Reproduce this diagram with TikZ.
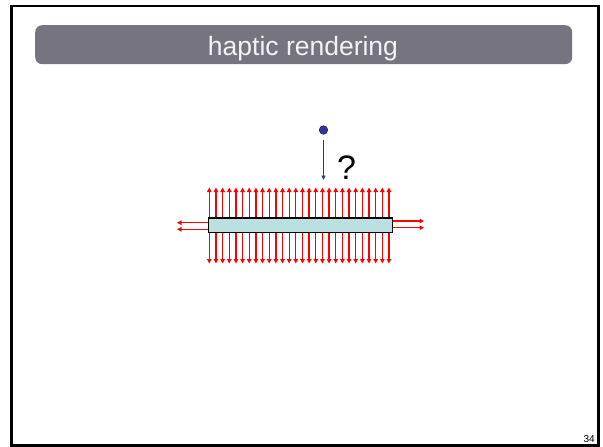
\documentclass[tikz,border=0pt]{standalone}
\usepackage{fontspec}
\setmainfont{Liberation Sans}
\usetikzlibrary{arrows.meta}
\definecolor{titlegray}{RGB}{118,117,127}
\definecolor{barfill}{RGB}{186,224,226}
\definecolor{probeblue}{RGB}{51,51,160}
\begin{document}
\begin{tikzpicture}[x=1pt,y=-1pt,
  force/.style={draw=red, line width=1.3pt, -{Triangle[length=4.5pt,width=4.5pt]}},
  probearrow/.style={draw=probeblue, line width=1.3pt, -{Triangle[length=4.5pt,width=4pt]}},
  titlebar/.style={fill=titlegray, rounded corners=7pt, minimum width=537pt, minimum height=39pt, inner sep=0pt, anchor=north west},
  barbox/.style={draw=black, fill=barfill, line width=1.2pt, minimum width=184pt, minimum height=14.5pt, inner sep=0pt, anchor=north west}]
\useasboundingbox (0,0) rectangle (603,447);
\fill[white] (0,0) rectangle (603,447);
\draw[line width=2.5pt] (11.5,6) rectangle (598.5,445.5);
% title
\node[titlebar] (title) at (35,25) {};
\node[text=white!95!black, font=\fontsize{26.5}{26.5}\selectfont, anchor=base] (titletext) at (303,55) {haptic rendering};
% vertical force arrows
\foreach \i in {0,...,27} {
  \pgfmathsetmacro\xx{209.3+\i*6.655}
  \coordinate (bt\i) at (\xx,220);
  \coordinate (ut\i) at (\xx,187.5);
  \coordinate (bb\i) at (\xx,229);
  \coordinate (dt\i) at (\xx,263.5);
  \draw[force] (bt\i) -- (ut\i);
  \draw[force] (bb\i) -- (dt\i);
}
% horizontal force arrows
\coordinate (l1s) at (210,222.7); \coordinate (l1e) at (177,222.7);
\coordinate (l2s) at (210,229.3); \coordinate (l2e) at (177,229.3);
\coordinate (r1s) at (390,221);   \coordinate (r1e) at (424,221);
\coordinate (r2s) at (390,227.7); \coordinate (r2e) at (424,227.7);
\draw[force] (l1s) -- (l1e);
\draw[force] (l2s) -- (l2e);
\draw[force] (r1s) -- (r1e);
\draw[force] (r2s) -- (r2e);
% the bar
\node[barbox] (bar) at (208,217.3) {};
% probe
\node[circle, fill=probeblue, draw=probeblue!60!black, line width=0.6pt, minimum size=8.5pt, inner sep=0pt] (probe) at (323.5,130) {};
\coordinate (ps) at (323.5,139.5);
\coordinate (pe) at (323.5,180);
\draw[probearrow] (ps) -- (pe);
\node[font=\fontsize{34}{34}\selectfont, anchor=base] (q) at (346.5,179) {?};
% page number
\node[font=\fontsize{10}{10}\selectfont, anchor=base east, inner sep=0pt] (pagenum) at (595,442) {34};
\end{tikzpicture}
\end{document}
